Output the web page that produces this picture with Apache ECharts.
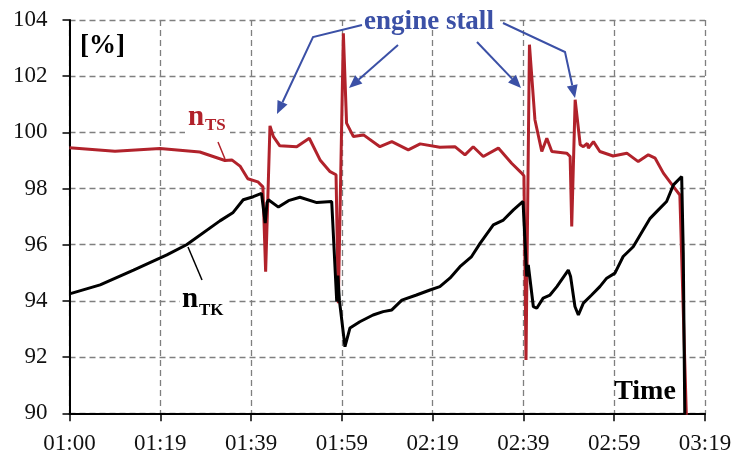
<!DOCTYPE html>
<html>
<head>
<meta charset="utf-8">
<script src="https://cdn.jsdelivr.net/npm/echarts@6/dist/echarts.min.js"></script>
<style>
html,body{margin:0;padding:0;background:#fff;}
#chart{width:735px;height:457px;}
</style>
</head>
<body>
<div id="chart"></div>
<script>
// Time axis: minutes after 01:00
var xTickLabels = ['01:00','01:19','01:39','01:59','02:19','02:39','02:59','03:19'];
var xMax = 139;
var yTicks = [90, 92, 94, 96, 98, 100, 102, 104];

// n_TS (red)
var tsTime = [0, 9.95, 19.8, 28.5, 34.0, 35.5, 37.3, 39.0, 41.2, 42.3, 42.9, 43.85, 44.6, 46.0, 49.7, 52.45, 54.8, 57.0, 58.3, 58.8, 59.9, 60.6, 62.1, 64.3, 67.9, 70.5, 74.1, 76.7, 81.0, 84.3, 86.5, 88.3, 90.5, 93.8, 96.7, 98.9, 99.4, 99.85, 100.6, 101.8, 103.3, 104.4, 105.5, 108.75, 109.5, 109.85, 110.6, 111.7, 112.4, 113.25, 113.5, 114.6, 116.0, 118.9, 121.9, 124.4, 126.6, 128.1, 129.9, 132.1, 133.5, 135.0];
var tsValue = [99.45, 99.33, 99.43, 99.3, 99.0, 99.02, 98.8, 98.35, 98.24, 98.06, 95.04, 100.23, 99.85, 99.52, 99.49, 99.79, 99.02, 98.6, 98.49, 93.92, 103.53, 100.33, 99.85, 99.91, 99.49, 99.67, 99.38, 99.59, 99.47, 99.49, 99.2, 99.49, 99.14, 99.44, 98.9, 98.55, 98.45, 91.9, 103.12, 100.45, 99.32, 99.79, 99.32, 99.26, 99.14, 96.65, 101.16, 99.56, 99.49, 99.61, 99.44, 99.67, 99.32, 99.16, 99.26, 98.96, 99.2, 99.08, 98.55, 98.07, 97.77, 89.5];

// n_TK (black)
var tkTime = [0, 6.7, 14.0, 21.3, 25.6, 32.9, 35.8, 38.0, 40.2, 42.0, 42.4, 42.8, 43.2, 43.5, 45.7, 47.9, 50.4, 54.1, 57.35, 58.45, 58.7, 59.05, 60.25, 61.35, 63.5, 66.4, 68.6, 70.5, 72.7, 75.9, 78.85, 81.0, 83.2, 85.4, 87.95, 89.8, 92.7, 94.9, 97.1, 99.2, 100.0, 100.35, 101.45, 102.2, 103.6, 105.1, 106.6, 109.1, 109.6, 110.55, 111.3, 112.4, 114.2, 116.0, 117.5, 119.3, 121.1, 123.3, 125.5, 127.0, 128.8, 130.6, 132.1, 133.9, 134.25, 134.6];
var tkValue = [94.25, 94.57, 95.1, 95.64, 96.0, 96.85, 97.15, 97.6, 97.71, 97.83, 97.8, 96.77, 97.5, 97.6, 97.34, 97.57, 97.69, 97.5, 97.54, 93.97, 94.9, 94.0, 92.37, 93.04, 93.26, 93.5, 93.62, 93.68, 94.03, 94.21, 94.39, 94.51, 94.81, 95.22, 95.58, 96.05, 96.71, 96.88, 97.24, 97.54, 94.87, 95.28, 93.8, 93.74, 94.1, 94.21, 94.51, 95.1, 94.87, 93.8, 93.5, 93.92, 94.21, 94.51, 94.81, 94.99, 95.58, 95.93, 96.53, 96.94, 97.24, 97.54, 98.13, 98.43, 95.7, 89.5];

function pairs(xs, ys){ return xs.map(function(x,i){ return [x, ys[i]]; }); }

var RED = '#b1222b', BLUE = '#3b50a6';
var serif = '"Liberation Serif", "DejaVu Serif", serif';

function arrow(pts, color){
  var n = pts.length, p1 = pts[n-2], p2 = pts[n-1];
  var dx = p2[0]-p1[0], dy = p2[1]-p1[1], L = Math.sqrt(dx*dx+dy*dy);
  var ux = dx/L, uy = dy/L, hl = 13, hw = 5.5;
  var bx = p2[0]-ux*hl, by = p2[1]-uy*hl;
  var line = pts.slice(0, n-1).concat([[bx, by]]);
  return [
    {type:'polyline', shape:{points:line}, style:{stroke:color, lineWidth:2, fill:null}, z:100},
    {type:'polygon', shape:{points:[p2, [bx-uy*hw, by+ux*hw], [bx+uy*hw, by-ux*hw]]}, style:{fill:color}, z:100}
  ];
}
function whiteBox(x, y, w, h){
  return {type:'rect', z:99, shape:{x:x, y:y, width:w, height:h}, style:{fill:'#fff'}};
}

var graphics = [];
// white patches behind the labels (they break the dashed grid lines)
graphics.push(whiteBox(358, 14, 142, 14));
graphics.push(whiteBox(185, 126, 45, 12));
graphics.push(whiteBox(180, 296, 46, 12));
graphics = graphics.concat(arrow([[362,25],[313,37],[277,114]], BLUE));
graphics = graphics.concat(arrow([[398,45],[349,88]], BLUE));
graphics = graphics.concat(arrow([[477,42],[521,88]], BLUE));
graphics = graphics.concat(arrow([[503,23],[565,52],[575,98]], BLUE));
graphics.push({type:'text', z:101, style:{text:'engine stall', x:429, y:22, textAlign:'center', textVerticalAlign:'middle', font:'bold 27px '+serif, fill:BLUE}});
graphics.push({type:'text', z:101, style:{text:'[%]', x:80, y:46, textAlign:'left', textVerticalAlign:'middle', font:'bold 27px '+serif, fill:'#000'}});
graphics.push({type:'text', z:101, style:{text:'Time', x:645, y:392, textAlign:'center', textVerticalAlign:'middle', font:'bold 28px '+serif, fill:'#000'}});
// n_TS label
graphics.push({type:'text', z:101, style:{text:'n', x:188, y:118, textAlign:'left', textVerticalAlign:'middle', font:'bold 29px '+serif, fill:RED}});
graphics.push({type:'text', z:101, style:{text:'TS', x:205, y:126, textAlign:'left', textVerticalAlign:'middle', font:'bold 17px '+serif, fill:RED}});
graphics.push({type:'line', z:101, shape:{x1:218,y1:142,x2:225,y2:159}, style:{stroke:RED, lineWidth:1.5}});
// n_TK label
graphics.push({type:'text', z:101, style:{text:'n', x:182, y:300, textAlign:'left', textVerticalAlign:'middle', font:'bold 29px '+serif, fill:'#000'}});
graphics.push({type:'text', z:101, style:{text:'TK', x:199, y:311, textAlign:'left', textVerticalAlign:'middle', font:'bold 17px '+serif, fill:'#000'}});
graphics.push({type:'line', z:101, shape:{x1:188,y1:247,x2:202,y2:280}, style:{stroke:'#000', lineWidth:1.5}});

var chart = echarts.init(document.getElementById('chart'), null, {renderer:'canvas'});
var step = xMax / (xTickLabels.length - 1);
chart.setOption({
  animation: false,
  backgroundColor: '#fff',
  grid: {left: 69.5, right: 30, top: 20, bottom: 43.7, containLabel: false},
  xAxis: {
    type: 'value', min: 0, max: xMax, interval: step,
    axisLine: {show: true, onZero: false, lineStyle: {color: '#000', width: 2}},
    axisTick: {show: true, inside: false, length: 8, lineStyle: {color: '#000', width: 1.5}},
    axisLabel: {
      margin: 19, color: '#111', fontFamily: serif, fontSize: 23,
      formatter: function(v){ return xTickLabels[Math.round(v/step)]; }
    },
    splitLine: {show: true, lineStyle: {color: '#7f7f7f', width: 1.3, type: [6,4]}}
  },
  yAxis: {
    type: 'value', min: yTicks[0], max: yTicks[yTicks.length-1], interval: 2,
    axisLine: {show: true, onZero: false, lineStyle: {color: '#000', width: 2}},
    axisTick: {show: true, inside: false, length: 7, lineStyle: {color: '#000', width: 1.5}},
    axisLabel: {margin: 22, color: '#111', fontFamily: serif, fontSize: 23},
    splitLine: {show: true, lineStyle: {color: '#7f7f7f', width: 1.3, type: [6,4]}}
  },
  series: [
    {type: 'line', name: 'nTS', data: pairs(tsTime, tsValue), showSymbol: false, smooth: false,
     lineStyle: {color: RED, width: 3}, itemStyle: {color: RED}, clip: true, z: 2},
    {type: 'line', name: 'nTK', data: pairs(tkTime, tkValue), showSymbol: false, smooth: false,
     lineStyle: {color: '#000', width: 3}, itemStyle: {color: '#000'}, clip: true, z: 3}
  ],
  graphic: graphics
});
</script>
</body>
</html>
